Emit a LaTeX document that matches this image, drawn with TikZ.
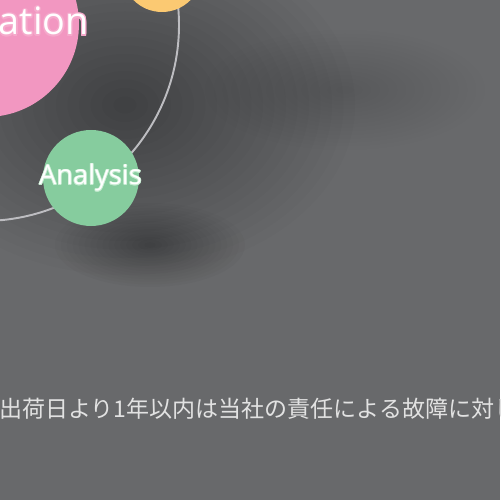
\documentclass[tikz,border=0pt]{standalone}
\usepackage{fontspec}
\setmainfont{Open Sans}
\newfontfamily\cjk{Noto Sans CJK JP}
\definecolor{bg}{HTML}{68696B}
\definecolor{pinkc}{HTML}{F297C1}
\definecolor{pinkline}{HTML}{F5A9CB}
\definecolor{yellowc}{HTML}{FBC972}
\definecolor{greenc}{HTML}{86CC9E}
\definecolor{greenline}{HTML}{C4EBD0}
\definecolor{orbitc}{HTML}{BDBDC1}
\definecolor{jptext}{HTML}{E2E2E2}
\tikzset{
  ball/.style={circle, inner sep=0pt, draw=none},
  orbit/.style={draw=orbitc, line width=1.1pt},
  bigword/.style={inner sep=0pt, anchor=base east, font=\fontsize{21.5}{26}\selectfont},
  smallword/.style={inner sep=0pt, anchor=base, font=\fontsize{15.5}{18}\selectfont},
  jpline/.style={inner sep=0pt, anchor=base west, text=jptext, font=\cjk\fontsize{13.1}{16}\selectfont}
}
\begin{document}
\begin{tikzpicture}[x=0.02cm,y=0.02cm]
\useasboundingbox (0,0) rectangle (500,500);
\clip (0,0) rectangle (500,500);
\fill[bg] (0,0) rectangle (500,500);
% soft shadows (stacked translucent ellipses)
\foreach \k in {1,...,20}
  \fill[black, opacity=0.015] (125,395) ellipse ({230*\k/20} and {170*\k/20});
\foreach \k in {1,...,16}
  \fill[black, opacity=0.02] (150,255) ellipse ({95*\k/16} and {42*\k/16});
\foreach \k in {1,...,16}
  \fill[black, opacity=0.009] (345,410) ellipse ({140*\k/16} and {60*\k/16});
% orbit
\coordinate (oc) at (-17,475);
\draw[orbit] (oc) circle (196);
% balls
\node[ball, fill=pinkc, minimum size=3.72cm] (core) at (-14,476) {};
\node[ball, fill=yellowc, minimum size=1.6cm] (top) at (162,528) {};
\node[ball, fill=greenc, minimum size=1.92cm] (analysis) at (91,322) {};
% word on the pink ball
\foreach \a in {0,30,...,330}
  \node[bigword, text=pinkline] at ([shift={(\a:1.4)}]89,465) {ation};
\node[bigword, text=white] (coreword) at (89,465) {ation};
% word on the green ball
\foreach \a in {0,45,...,315}
  \node[smallword, text=greenline] at ([shift={(\a:0.7)}]90.5,315) {Analysis};
\node[smallword, text=white] (aword) at (90.5,315) {Analysis};
% Japanese line
\node[jpline] (note) at (-1,82) {出荷日より1年以内は当社の責任による故障に対し};
\end{tikzpicture}
\end{document}
